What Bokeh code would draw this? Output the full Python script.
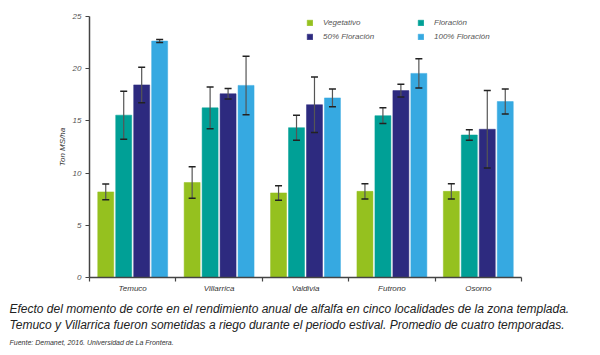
from bokeh.plotting import figure
from bokeh.models import (ColumnDataSource, Whisker, TeeHead, FixedTicker, Legend,
                          LegendItem, Title, Range1d)
from bokeh.embed import file_html
from bokeh.resources import INLINE

locations = ["Temuco", "Villarrica", "Valdivia", "Futrono", "Osorno"]
series = ["Vegetativo", "Floración", "50% Floración", "100% Floración"]
colors = ["#95C11F", "#00A096", "#2D2A7F", "#36A9E1"]

vegetativo = [8.2, 9.1, 8.1, 8.25, 8.25]
floracion = [15.55, 16.25, 14.35, 15.5, 13.65]
floracion50 = [18.45, 17.6, 16.55, 17.9, 14.2]
floracion100 = [22.65, 18.4, 17.2, 19.55, 16.85]

err_vegetativo = [0.75, 1.5, 0.7, 0.72, 0.72]
err_floracion = [2.3, 2.0, 1.2, 0.75, 0.5]
err_floracion50 = [1.7, 0.5, 2.65, 0.6, 3.7]
err_floracion100 = [0.15, 2.8, 0.85, 1.4, 1.2]

values = [vegetativo, floracion, floracion50, floracion100]
errors = [err_vegetativo, err_floracion, err_floracion50, err_floracion100]

FONT = "Liberation Sans"

p = figure(width=600, height=355, output_backend="svg", toolbar_location=None,
           x_range=Range1d(0, len(locations)), y_range=Range1d(0, 25),
           min_border_left=89, min_border_right=79, min_border_top=16,
           min_border_bottom=78)
p.outline_line_color = None
p.xgrid.visible = False
p.ygrid.visible = False
p.background_fill_color = "white"
p.border_fill_color = "white"

step = 0.208
bw = 0.185
renderers = []
for i, (name, vals, errs, col) in enumerate(zip(series, values, errors, colors)):
    xs = [j + 0.5 + (i - 1.5) * step for j in range(len(locations))]
    src = ColumnDataSource(dict(x=xs, top=vals,
                                upper=[v + e for v, e in zip(vals, errs)],
                                lower=[v - e for v, e in zip(vals, errs)]))
    r = p.vbar(x="x", top="top", width=bw, bottom=0, source=src,
               fill_color=col, line_color=col, line_width=0.5)
    renderers.append(r)
    w = Whisker(base="x", upper="upper", lower="lower", source=src, level="overlay",
                line_color="#555555", line_width=1.2,
                upper_head=TeeHead(size=7, line_color="#222222", line_width=1.5),
                lower_head=TeeHead(size=7, line_color="#222222", line_width=1.5))
    p.add_layout(w)

# axes
p.xaxis.ticker = FixedTicker(ticks=[j + 0.5 for j in range(len(locations))],
                             minor_ticks=list(range(len(locations) + 1)))
p.xaxis.major_label_overrides = {j + 0.5: loc for j, loc in enumerate(locations)}
p.xaxis.major_tick_line_color = None
p.xaxis.major_tick_out = 4
p.xaxis.major_tick_in = 0
p.xaxis.minor_tick_line_color = "#444444"
p.xaxis.minor_tick_out = 4
p.xaxis.minor_tick_in = 0
p.xaxis.minor_tick_line_width = 1.2
p.xaxis.axis_line_color = "#444444"
p.xaxis.axis_line_width = 1.5
p.xaxis.major_label_text_font = FONT
p.xaxis.major_label_text_font_style = "italic"
p.xaxis.major_label_text_font_size = "8px"
p.xaxis.major_label_text_color = "#333333"
p.xaxis.major_label_standoff = 2

p.yaxis.ticker = FixedTicker(ticks=[0, 5, 10, 15, 20, 25], minor_ticks=[])
p.yaxis.major_tick_out = 4
p.yaxis.major_tick_in = 0
p.yaxis.major_tick_line_color = "#444444"
p.yaxis.major_tick_line_width = 1.2
p.yaxis.axis_line_color = "#444444"
p.yaxis.axis_line_width = 1.5
p.yaxis.major_label_text_font = FONT
p.yaxis.major_label_text_font_style = "italic"
p.yaxis.major_label_text_font_size = "8px"
p.yaxis.major_label_text_color = "#555555"
p.yaxis.major_label_standoff = 4
p.yaxis.axis_label = "Ton MS/ha"
p.yaxis.axis_label_text_font = FONT
p.yaxis.axis_label_text_font_style = "italic"
p.yaxis.axis_label_text_font_size = "8px"
p.yaxis.axis_label_text_color = "#333333"
p.yaxis.axis_label_standoff = 3

legend = Legend(items=[LegendItem(label=s, renderers=[r]) for s, r in zip(series, renderers)],
                ncols=2, location=(217, 236), orientation="horizontal",
                glyph_width=7, glyph_height=7, label_standoff=10, label_width=90,
                label_height=10, spacing=4, padding=0, margin=0,
                border_line_color=None, background_fill_alpha=0,
                label_text_font=FONT, label_text_font_style="italic",
                label_text_font_size="8px", label_text_color="#555555")
p.add_layout(legend)

captions = [
    "Efecto del momento de corte en el rendimiento anual de alfalfa en cinco localidades de la zona templada.",
    "Temuco y Villarrica fueron sometidas a riego durante el periodo estival. Promedio de cuatro temporadas.",
]
p.add_layout(Title(text="\n".join(captions), align="left", offset=-80, standoff=9,
                   text_font=FONT, text_font_style="italic", text_line_height=1.15,
                   text_font_size="12px", text_color="#222222"), "below")
p.add_layout(Title(text="Fuente: Demanet, 2016. Universidad de La Frontera.",
                   align="left", offset=-80, standoff=1,
                   text_font=FONT, text_font_style="italic", text_font_size="7px",
                   text_color="#333333"), "below")

open("out.html", "w").write(file_html(p, INLINE))
